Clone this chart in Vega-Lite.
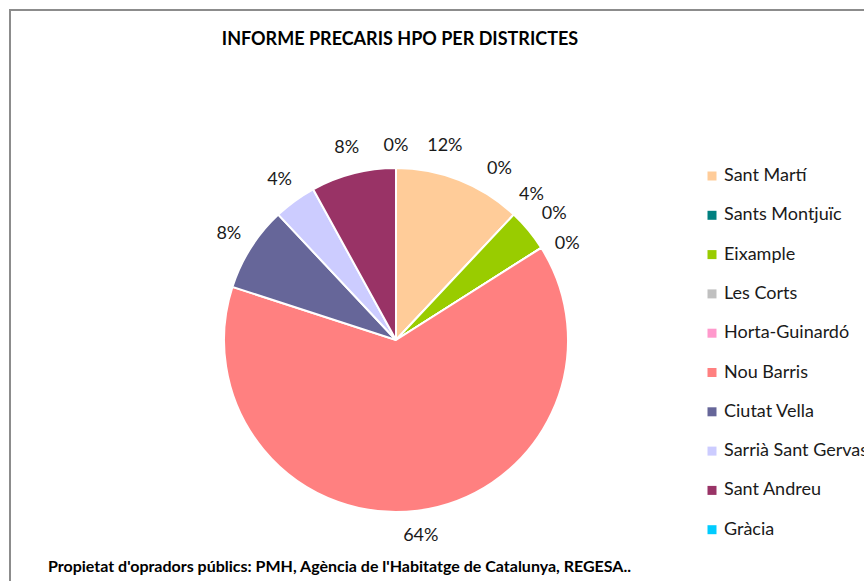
{
  "$schema": "https://vega.github.io/schema/vega-lite/v6.json",
  "width": 856,
  "height": 573,
  "autosize": {"type": "none"},
  "padding": {"left": 10, "top": 10, "right": -2, "bottom": -2},
  "background": "white",
  "view": {"stroke": "#8c8c8c", "strokeWidth": 2},
  "config": {
    "view": {"stroke": "#8c8c8c", "strokeWidth": 2},
    "text": {"font": "Lato"}
  },
  "title": {
    "text": "INFORME PRECARIS HPO PER DISTRICTES",
    "anchor": "middle",
    "frame": "group",
    "font": "Lato",
    "fontSize": 18,
    "fontWeight": "bold",
    "color": "#000000",
    "baseline": "middle",
    "offset": -48,
    "dx": -38
  },
  "data": {
    "values": [
      {"district": "Sant Martí", "idx": 1, "share": 0.12},
      {"district": "Sants Montjuïc", "idx": 2, "share": 0},
      {"district": "Eixample", "idx": 3, "share": 0.04},
      {"district": "Les Corts", "idx": 4, "share": 0},
      {"district": "Horta-Guinardó", "idx": 5, "share": 0},
      {"district": "Nou Barris", "idx": 6, "share": 0.64},
      {"district": "Ciutat Vella", "idx": 7, "share": 0.08},
      {"district": "Sarrià Sant Gervasi", "idx": 8, "share": 0.04},
      {"district": "Sant Andreu", "idx": 9, "share": 0.08},
      {"district": "Gràcia", "idx": 10, "share": 0}
    ]
  },
  "layer": [
    {
      "mark": {"type": "arc", "outerRadius": 172, "x": 386, "y": 330, "stroke": "white", "strokeWidth": 2},
      "encoding": {
        "theta": {"field": "share", "type": "quantitative", "stack": true},
        "order": {"field": "idx", "type": "quantitative"},
        "color": {
          "field": "district",
          "type": "nominal",
          "scale": {
            "domain": ["Sant Martí", "Sants Montjuïc", "Eixample", "Les Corts", "Horta-Guinardó", "Nou Barris", "Ciutat Vella", "Sarrià Sant Gervasi", "Sant Andreu", "Gràcia"],
            "range": ["#FFCC99", "#008080", "#99CC00", "#C0C0C0", "#FF99CC", "#FF8080", "#666699", "#CCCCFF", "#993366", "#00CCFF"]
          },
          "legend": {
            "orient": "none",
            "legendX": 693,
            "legendY": 157,
            "title": null,
            "symbolType": "square",
            "symbolSize": 81,
            "symbolStrokeWidth": 0,
            "labelFont": "Lato",
            "labelFontSize": 18,
            "labelColor": "#1a1a1a",
            "labelOffset": 3,
            "labelLimit": 400,
            "rowPadding": 21.3,
            "padding": 0
          }
        }
      }
    },
    {
      "mark": {"type": "text", "radius": 198, "x": 386, "y": 330, "fontSize": 18, "color": "#1a1a1a"},
      "encoding": {
        "theta": {"field": "share", "type": "quantitative", "stack": true},
        "order": {"field": "idx", "type": "quantitative"},
        "detail": {"field": "district", "type": "nominal"},
        "text": {
          "condition": {"test": "indexof(['Sant Martí','Sants Montjuïc','Eixample','Les Corts','Horta-Guinardó','Gràcia'], datum.district) < 0", "field": "share", "type": "quantitative", "format": ".0%"},
          "value": ""
        }
      }
    },
    {
      "mark": {"type": "text", "radius": 198, "x": 386, "y": 330, "fontSize": 18, "color": "#1a1a1a", "dx": -24, "dy": -10},
      "encoding": {
        "theta": {"field": "share", "type": "quantitative", "stack": true},
        "order": {"field": "idx", "type": "quantitative"},
        "detail": {"field": "district", "type": "nominal"},
        "text": {"condition": {"test": "datum.district === 'Sant Martí'", "field": "share", "type": "quantitative", "format": ".0%"}, "value": ""}
      }
    },
    {
      "mark": {"type": "text", "radius": 198, "x": 386, "y": 330, "fontSize": 18, "color": "#1a1a1a", "dx": -32, "dy": -27},
      "encoding": {
        "theta": {"field": "share", "type": "quantitative", "stack": true},
        "order": {"field": "idx", "type": "quantitative"},
        "detail": {"field": "district", "type": "nominal"},
        "text": {"condition": {"test": "datum.district === 'Sants Montjuïc'", "field": "share", "type": "quantitative", "format": ".0%"}, "value": ""}
      }
    },
    {
      "mark": {"type": "text", "radius": 198, "x": 386, "y": 330, "fontSize": 18, "color": "#1a1a1a", "dx": -17, "dy": -19},
      "encoding": {
        "theta": {"field": "share", "type": "quantitative", "stack": true},
        "order": {"field": "idx", "type": "quantitative"},
        "detail": {"field": "district", "type": "nominal"},
        "text": {"condition": {"test": "datum.district === 'Eixample'", "field": "share", "type": "quantitative", "format": ".0%"}, "value": ""}
      }
    },
    {
      "mark": {"type": "text", "radius": 198, "x": 386, "y": 330, "fontSize": 18, "color": "#1a1a1a", "dx": -9, "dy": -20},
      "encoding": {
        "theta": {"field": "share", "type": "quantitative", "stack": true},
        "order": {"field": "idx", "type": "quantitative"},
        "detail": {"field": "district", "type": "nominal"},
        "text": {"condition": {"test": "datum.district === 'Les Corts'", "field": "share", "type": "quantitative", "format": ".0%"}, "value": ""}
      }
    },
    {
      "mark": {"type": "text", "radius": 198, "x": 386, "y": 330, "fontSize": 18, "color": "#1a1a1a", "dx": 4, "dy": 10},
      "encoding": {
        "theta": {"field": "share", "type": "quantitative", "stack": true},
        "order": {"field": "idx", "type": "quantitative"},
        "detail": {"field": "district", "type": "nominal"},
        "text": {"condition": {"test": "datum.district === 'Horta-Guinardó'", "field": "share", "type": "quantitative", "format": ".0%"}, "value": ""}
      }
    },
    {
      "mark": {"type": "text", "radius": 198, "x": 386, "y": 330, "fontSize": 18, "color": "#1a1a1a", "dy": 4},
      "encoding": {
        "theta": {"field": "share", "type": "quantitative", "stack": true},
        "order": {"field": "idx", "type": "quantitative"},
        "detail": {"field": "district", "type": "nominal"},
        "text": {"condition": {"test": "datum.district === 'Gràcia'", "field": "share", "type": "quantitative", "format": ".0%"}, "value": ""}
      }
    },
    {
      "data": {"values": [{"note": "Propietat d'opradors públics: PMH, Agència de l'Habitatge de Catalunya, REGESA.."}]},
      "mark": {"type": "text", "x": 38, "y": 557, "align": "left", "baseline": "middle", "fontSize": 16, "fontWeight": "bold", "color": "#000000"},
      "encoding": {"text": {"field": "note", "type": "nominal"}}
    }
  ]
}
